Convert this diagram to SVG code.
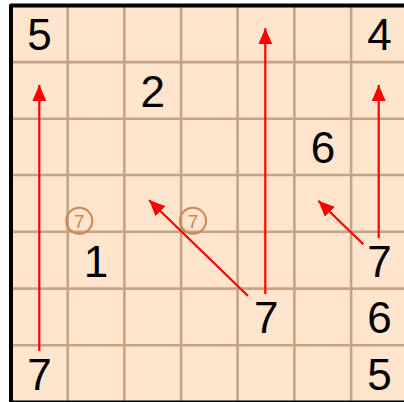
<svg xmlns="http://www.w3.org/2000/svg" width="404" height="402" viewBox="0 0 404 402">
<style>
.grid line{stroke:#c4a484;stroke-width:2.6}
.d{font-family:"Liberation Sans",Arial,sans-serif;font-size:44px;fill:#000;text-anchor:middle}
.m circle{fill:none;stroke:#cd8550;stroke-width:2}
.m text{font-family:"Liberation Sans",Arial,sans-serif;font-size:19px;fill:#cd8550;text-anchor:middle}
.arr line{stroke:#ff0000;stroke-width:2.2;marker-end:url(#ah)}
</style>
<defs>
<marker id="ah" markerUnits="userSpaceOnUse" markerWidth="16" markerHeight="14" refX="16" refY="7" orient="auto">
<path d="M0,0 L16,7 L0,14 Z" fill="#ff0000"/>
</marker>
</defs>
<rect x="0" y="0" width="404" height="402" fill="#ffffff"/>
<rect x="11" y="5.5" width="400" height="400" fill="#ffe5cd"/>
<g class="grid">
<line x1="67.7" y1="5.5" x2="67.7" y2="402"/>
<line x1="124.4" y1="5.5" x2="124.4" y2="402"/>
<line x1="181.1" y1="5.5" x2="181.1" y2="402"/>
<line x1="237.6" y1="5.5" x2="237.6" y2="402"/>
<line x1="294.4" y1="5.5" x2="294.4" y2="402"/>
<line x1="351.1" y1="5.5" x2="351.1" y2="402"/>
<line x1="11" y1="62.1" x2="404" y2="62.1"/>
<line x1="11" y1="118.7" x2="404" y2="118.7"/>
<line x1="11" y1="175" x2="404" y2="175"/>
<line x1="11" y1="231.7" x2="404" y2="231.7"/>
<line x1="11" y1="288.6" x2="404" y2="288.6"/>
<line x1="11" y1="345.2" x2="404" y2="345.2"/>
</g>
<path d="M11,402.5 V5.5 H404" fill="none" stroke="#000" stroke-width="4" stroke-linejoin="round"/>
<line x1="9" y1="402.5" x2="404" y2="402.5" stroke="#000" stroke-width="4"/>
<g id="digits">
<text id="n-r0c0" class="d" x="39.4" y="50">5</text>
<text id="n-r0c6" class="d" x="379.6" y="50">4</text>
<text id="n-r1c2" class="d" x="152.8" y="106.5">2</text>
<text id="n-r2c5" class="d" x="322.9" y="163">6</text>
<text id="n-r4c1" class="d" x="96" y="276.5">1</text>
<text id="n-r4c6" class="d" x="379.6" y="276.5">7</text>
<text id="n-r5c4" class="d" x="266.2" y="333">7</text>
<text id="n-r5c6" class="d" x="379.6" y="333">6</text>
<text id="n-r6c0" class="d" x="39.4" y="390">7</text>
<text id="n-r6c6" class="d" x="379.6" y="390">5</text>
</g>
<g id="mark1" class="m">
<circle cx="79.3" cy="220.8" r="13"/>
<text x="79.3" y="227.6">7</text>
</g>
<g id="mark2" class="m">
<circle cx="193" cy="220.8" r="13"/>
<text x="193" y="227.6">7</text>
</g>
<g id="connectors" class="arr">
<line x1="39.3" y1="351" x2="39.3" y2="85"/>
<line x1="265.3" y1="294" x2="265.3" y2="28.3"/>
<line x1="378.7" y1="238" x2="378.7" y2="85"/>
<line x1="248" y1="296" x2="149" y2="200"/>
<line x1="363.3" y1="244.3" x2="318.3" y2="200.7"/>
</g>
</svg>
